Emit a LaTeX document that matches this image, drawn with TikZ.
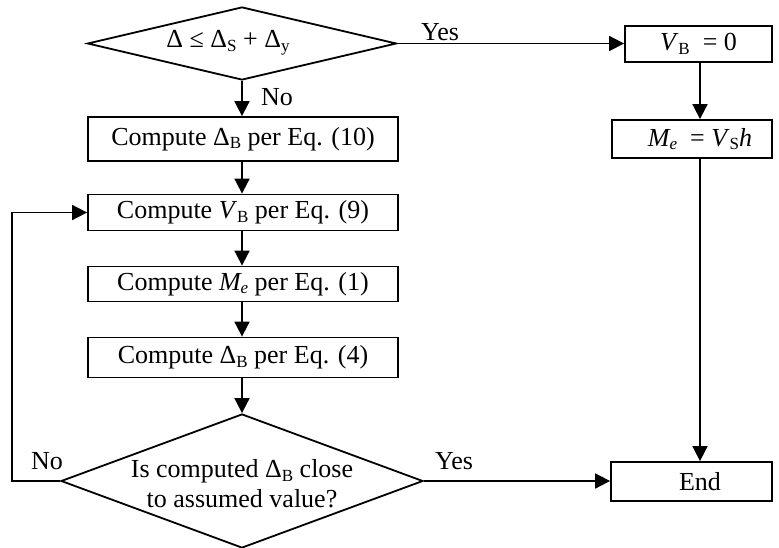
\documentclass[tikz,border=0pt]{standalone}
\usepackage{fontspec}
\setmainfont{Liberation Serif}
\usetikzlibrary{arrows.meta,shapes.geometric}
\newcommand\mysub[1]{\raisebox{-0.3ex}{\fontsize{17}{17}\selectfont #1}}
\tikzset{
  every node/.style={font=\fontsize{26}{30}\selectfont},
  arr/.style={line width=1.8pt,-{Triangle[length=15pt,width=15pt]}},
  procbox/.style={draw,line width=1.8pt,rectangle,inner sep=0pt},
  decision/.style={draw,line width=1.8pt,diamond,inner sep=0pt},
  lbl/.style={inner sep=0pt}
}
\begin{document}
\begin{tikzpicture}[x=1pt,y=-1pt]
\useasboundingbox (0,0) rectangle (779,548);
% left column
\node[decision,minimum width=309pt,minimum height=73pt] (d1) at (242,43.5) {};
\node[lbl] (d1t) at (228,43) {Δ ≤ Δ\mysub{S} + Δ\mysub{y}};
\node[procbox,minimum width=310pt,minimum height=44pt] (b1) at (243,139) {Compute Δ\mysub{B} per Eq. (10)};
\node[procbox,minimum width=310pt,minimum height=36pt] (b2) at (243,212.5) {Compute \textit{V}\mysub{B} per Eq. (9)};
\node[procbox,minimum width=310pt,minimum height=35pt] (b3) at (243,284) {Compute \textit{M\mysub{e}} per Eq. (1)};
\node[procbox,minimum width=310pt,minimum height=40pt] (b4) at (243,357.5) {Compute Δ\mysub{B} per Eq. (4)};
\node[decision,minimum width=362pt,minimum height=134pt] (d2) at (242,481) {};
\node[lbl,align=center] (d2t) at (242,484) {Is computed Δ\mysub{B} close\\to assumed value?};
% right column
\node[procbox,minimum width=147pt,minimum height=36pt] (vb) at (698.5,44) {\textit{V}\mysub{B} \ = 0};
\node[procbox,minimum width=160pt,minimum height=38pt] (me) at (692,139) {};
\node[lbl] (met) at (700,139) {\textit{M\mysub{e}} \ = \textit{V}\mysub{S}\textit{h}};
\node[procbox,minimum width=161pt,minimum height=39pt] (end) at (691.5,481.5) {};
\node[lbl] (endt) at (700,481.5) {End};
% labels
\node[lbl] (yes1) at (440,32) {Yes};
\node[lbl] (no1) at (277,97) {No};
\node[lbl] (no2) at (47,461) {No};
\node[lbl] (yes2) at (454,461) {Yes};
\coordinate (lp1) at (12,481);
\coordinate (lp2) at (12,212.5);
% connectors
\draw[arr] (d1.east) -- (d1.east -| vb.west);
\draw[arr] (d1.south) -- (d1.south |- b1.north);
\draw[arr] (d1.south |- b1.south) -- (d1.south |- b2.north);
\draw[arr] (d1.south |- b2.south) -- (d1.south |- b3.north);
\draw[arr] (d1.south |- b3.south) -- (d1.south |- b4.north);
\draw[arr] (d1.south |- b4.south) -- (d2.north);
\draw[arr] (met.center |- vb.south) -- (met.center |- me.north);
\draw[arr] (met.center |- me.south) -- (met.center |- end.north);
\draw[arr] (d2.east) -- (d2.east -| end.west);
\draw[arr] (d2.west) -- (lp1) -- (lp2) -- (b2.west);
\end{tikzpicture}
\end{document}
